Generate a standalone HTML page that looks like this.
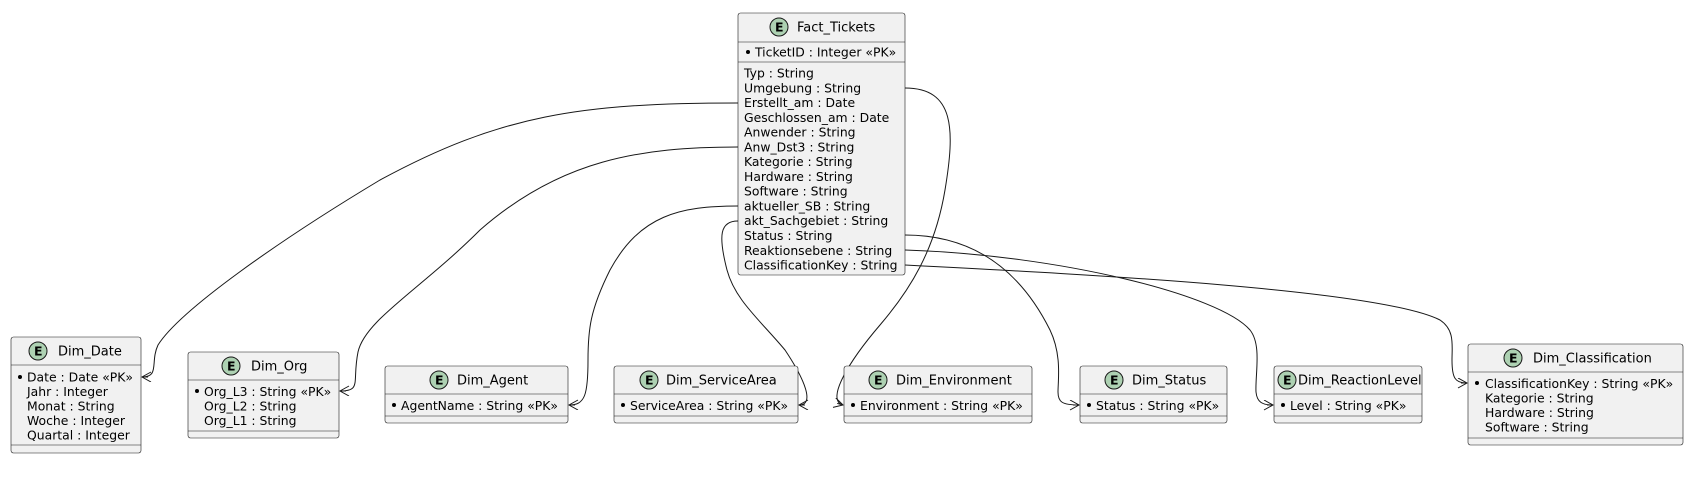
<!DOCTYPE html>
<html><head><meta charset="utf-8"><style>
html,body{margin:0;padding:0;background:#fff;}
svg{display:block;}
text{font-family:"DejaVu Sans","Liberation Sans",sans-serif;font-size:12.4px;fill:#000;}
.b{fill:#F1F1F1;stroke:#181818;stroke-width:0.6;}
.l{stroke:#181818;stroke-width:0.6;}
.e{fill:none;stroke:#181818;stroke-width:1;}
.c{fill:#ADD1B2;stroke:#181818;stroke-width:1;}
.ct{font-weight:bold;font-size:12.5px;}
.t{font-size:13px;}
</style></head><body>
<svg width="1708" height="488" viewBox="0 0 1708 488" xmlns="http://www.w3.org/2000/svg">
<defs>
<marker id="a" markerWidth="12" markerHeight="12" refX="10" refY="5" orient="auto" markerUnits="userSpaceOnUse">
<path d="M1,0 L10,5 L1,10 M10,5 L4,5" fill="none" stroke="#181818" stroke-width="1"/>
</marker>
</defs>

<path class="e" marker-end="url(#a)" d="M738,103 C580,103 500,115 380,180 C280,240 180,310 158,345 C150,362 160,377 142,377"/>
<path class="e" marker-end="url(#a)" d="M738,147 C640,147 560,160 480,230 C420,290 365,320 358,352 C352,382 362,391 340,391"/>
<path class="e" marker-end="url(#a)" d="M738,206 C680,206 640,215 610,270 C590,310 588,330 588,360 C588,395 585,405 569,405"/>
<path class="e" marker-end="url(#a)" d="M738,221 C720,221 718,235 727,270 C735,300 760,320 785,350 C805,380 815,405 799,405"/>
<path class="e" marker-end="url(#a)" d="M905,88 C955,88 955,130 945,190 C935,250 910,290 880,325 C850,360 825,400 843,405"/>
<path class="e" marker-end="url(#a)" d="M905,235 C990,235 1030,290 1050,330 C1062,355 1058,380 1058,392 C1058,402 1062,405 1079,405"/>
<path class="e" marker-end="url(#a)" d="M905,250 C1060,255 1220,295 1250,330 C1262,345 1255,375 1256,392 C1257,402 1262,405 1273,405"/>
<path class="e" marker-end="url(#a)" d="M905,265 C1100,275 1380,290 1440,320 C1455,330 1452,345 1452,360 C1452,378 1455,383 1467,383"/>

<rect class="b" x="738" y="13" width="167" height="262" rx="2.5"/>
<circle class="c" cx="779" cy="27" r="9"/><text class="ct" x="775" y="31.5">E</text>
<text class="t" x="797" y="31.5">Fact_Tickets</text>
<line class="l" x1="738" y1="42" x2="905" y2="42"/>
<circle cx="748" cy="52" r="2" fill="#000"/><text x="755" y="56.5">TicketID : Integer «PK»</text>
<line class="l" x1="738" y1="62" x2="905" y2="62"/>
<text x="744" y="77.5">Typ : String</text>
<text x="744" y="92.3">Umgebung : String</text>
<text x="744" y="107">Erstellt_am : Date</text>
<text x="744" y="121.8">Geschlossen_am : Date</text>
<text x="744" y="136.6">Anwender : String</text>
<text x="744" y="151.4">Anw_Dst3 : String</text>
<text x="744" y="166.1">Kategorie : String</text>
<text x="744" y="180.9">Hardware : String</text>
<text x="744" y="195.7">Software : String</text>
<text x="744" y="210.4">aktueller_SB : String</text>
<text x="744" y="225.2">akt_Sachgebiet : String</text>
<text x="744" y="240">Status : String</text>
<text x="744" y="254.8">Reaktionsebene : String</text>
<text x="744" y="269.5">ClassificationKey : String</text>

<rect class="b" x="11" y="337" width="130" height="116" rx="2.5"/>
<circle class="c" cx="38" cy="351" r="9"/><text class="ct" x="34" y="355.5">E</text>
<text class="t" x="58" y="355.5">Dim_Date</text>
<line class="l" x1="11" y1="365" x2="141" y2="365"/>
<circle cx="20" cy="377" r="2" fill="#000"/><text x="27" y="381.5">Date : Date «PK»</text>
<text x="27" y="396">Jahr : Integer</text>
<text x="27" y="410.5">Monat : String</text>
<text x="27" y="425">Woche : Integer</text>
<text x="27" y="439.5">Quartal : Integer</text>
<line class="l" x1="11" y1="445" x2="141" y2="445"/>

<rect class="b" x="188" y="352" width="151" height="86" rx="2.5"/>
<circle class="c" cx="231" cy="366" r="9"/><text class="ct" x="227" y="370.5">E</text>
<text class="t" x="251" y="370.5">Dim_Org</text>
<line class="l" x1="188" y1="380" x2="339" y2="380"/>
<circle cx="197" cy="391" r="2" fill="#000"/><text x="204" y="396">Org_L3 : String «PK»</text>
<text x="204" y="410.5">Org_L2 : String</text>
<text x="204" y="425">Org_L1 : String</text>
<line class="l" x1="188" y1="431" x2="339" y2="431"/>

<rect class="b" x="385" y="366" width="183" height="57" rx="2.5"/>
<circle class="c" cx="439" cy="380" r="9"/><text class="ct" x="435" y="384.5">E</text>
<text class="t" x="457" y="384.5">Dim_Agent</text>
<line class="l" x1="385" y1="394" x2="568" y2="394"/>
<circle cx="394" cy="405" r="2" fill="#000"/><text x="401" y="410">AgentName : String «PK»</text>
<line class="l" x1="385" y1="416" x2="568" y2="416"/>

<rect class="b" x="614" y="366" width="184" height="57" rx="2.5"/>
<circle class="c" cx="649" cy="380" r="9"/><text class="ct" x="645" y="384.5">E</text>
<text class="t" x="666" y="384.5">Dim_ServiceArea</text>
<line class="l" x1="614" y1="394" x2="798" y2="394"/>
<circle cx="623" cy="405" r="2" fill="#000"/><text x="630" y="410">ServiceArea : String «PK»</text>
<line class="l" x1="614" y1="416" x2="798" y2="416"/>

<rect class="b" x="844" y="366" width="188" height="57" rx="2.5"/>
<circle class="c" cx="878" cy="380" r="9"/><text class="ct" x="874" y="384.5">E</text>
<text class="t" x="896" y="384.5">Dim_Environment</text>
<line class="l" x1="844" y1="394" x2="1032" y2="394"/>
<circle cx="853" cy="405" r="2" fill="#000"/><text x="860" y="410">Environment : String «PK»</text>
<line class="l" x1="844" y1="416" x2="1032" y2="416"/>

<rect class="b" x="1080" y="366" width="147" height="57" rx="2.5"/>
<circle class="c" cx="1114" cy="380" r="9"/><text class="ct" x="1110" y="384.5">E</text>
<text class="t" x="1132" y="384.5">Dim_Status</text>
<line class="l" x1="1080" y1="394" x2="1227" y2="394"/>
<circle cx="1089" cy="405" r="2" fill="#000"/><text x="1096" y="410">Status : String «PK»</text>
<line class="l" x1="1080" y1="416" x2="1227" y2="416"/>

<rect class="b" x="1274" y="366" width="148" height="57" rx="2.5"/>
<circle class="c" cx="1287" cy="380" r="9"/><text class="ct" x="1283" y="384.5">E</text>
<text class="t" x="1298" y="384.5">Dim_ReactionLevel</text>
<line class="l" x1="1274" y1="394" x2="1422" y2="394"/>
<circle cx="1283" cy="405" r="2" fill="#000"/><text x="1290" y="410">Level : String «PK»</text>
<line class="l" x1="1274" y1="416" x2="1422" y2="416"/>

<rect class="b" x="1468" y="344" width="215" height="101" rx="2.5"/>
<circle class="c" cx="1513" cy="358" r="9"/><text class="ct" x="1509" y="362.5">E</text>
<text class="t" x="1533" y="362.5">Dim_Classification</text>
<line class="l" x1="1468" y1="372" x2="1683" y2="372"/>
<circle cx="1477" cy="383" r="2" fill="#000"/><text x="1485" y="388">ClassificationKey : String «PK»</text>
<text x="1485" y="402.5">Kategorie : String</text>
<text x="1485" y="417">Hardware : String</text>
<text x="1485" y="431.5">Software : String</text>
<line class="l" x1="1468" y1="438" x2="1683" y2="438"/>
</svg>
</body></html>
